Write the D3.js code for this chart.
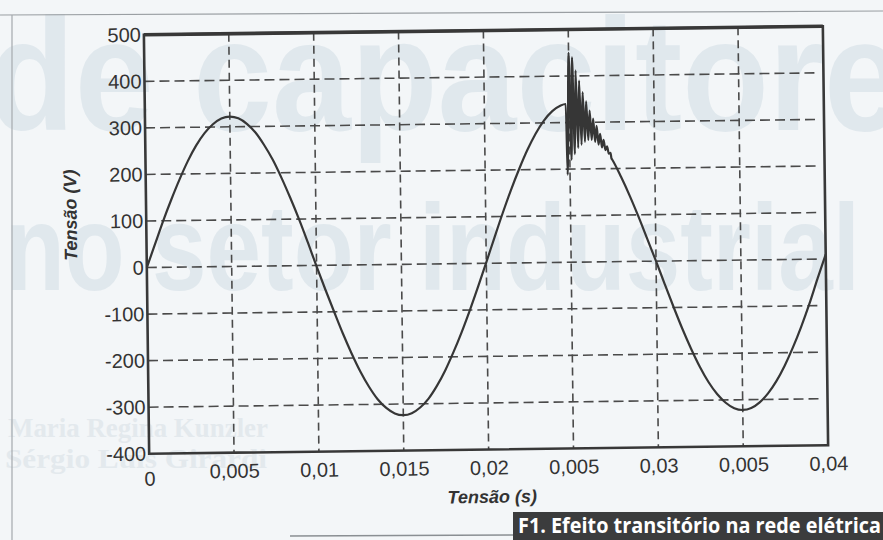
<!DOCTYPE html>
<html>
<head>
<meta charset="utf-8">
<script src="https://cdn.jsdelivr.net/npm/d3@7"></script>
<style>
body { margin: 0; background: #f3f6f8; }
svg { display: block; }
</style>
</head>
<body>
<svg id="graph"></svg>
<script>
var width = 883;
var height = 540;

// eixos
var yTicks = [-400, -300, -200, -100, 0, 100, 200, 300, 400, 500];
var xTicks = [0, 0.005, 0.01, 0.015, 0.02, 0.025, 0.03, 0.035, 0.04];
var xTickLabels = ["0", "0,005", "0,01", "0,015", "0,02", "0,005", "0,03", "0,005", "0,04"];

// tensao: [tempo (s), tensao (V)]
var onda = [
  [0, 0], [0.0005, 50], [0.001, 100], [0.0015, 146], [0.002, 189], [0.0025, 228],
  [0.003, 261], [0.0035, 287], [0.004, 306], [0.0045, 318], [0.005, 322],
  [0.0055, 318], [0.006, 306], [0.0065, 287], [0.007, 260], [0.0075, 228],
  [0.008, 189], [0.0085, 146], [0.009, 100], [0.0095, 50], [0.01, -2],
  [0.0105, -52], [0.011, -100], [0.0115, -147], [0.012, -190], [0.0125, -229],
  [0.013, -262], [0.0135, -289], [0.014, -308], [0.0145, -320], [0.015, -324],
  [0.0155, -320], [0.016, -308], [0.0165, -289], [0.017, -262], [0.0175, -229],
  [0.018, -190], [0.0185, -147], [0.019, -100], [0.0195, -50], [0.02, 2],
  [0.0205, 55], [0.021, 107], [0.0215, 156], [0.022, 201], [0.0225, 242],
  [0.023, 277], [0.0235, 305], [0.024, 325], [0.0245, 337], [0.0248, 340]
];

// chaveamento do capacitor
var transitorio = [
  [0.02486, 188], [0.025, 450], [0.0251, 220], [0.0252, 440], [0.0253, 232],
  [0.0254, 412], [0.0255, 245], [0.0256, 390], [0.0257, 252], [0.0258, 365],
  [0.0259, 258], [0.026, 345], [0.0261, 262], [0.0262, 325], [0.0263, 262],
  [0.0264, 308], [0.0265, 258], [0.0266, 292], [0.0267, 252], [0.0268, 275],
  [0.0269, 246], [0.027, 262], [0.0271, 240], [0.0272, 248], [0.0273, 232],
  [0.0274, 234], [0.02745, 222]
];

var ondaFinal = [
  [0.0275, 219], [0.028, 182], [0.0285, 141], [0.029, 96], [0.0295, 48],
  [0.03, 0], [0.0305, -50], [0.031, -99], [0.0315, -146], [0.032, -189],
  [0.0325, -228], [0.033, -261], [0.0335, -287], [0.034, -306], [0.0345, -318],
  [0.035, -322], [0.0355, -318], [0.036, -306], [0.0365, -287], [0.037, -261],
  [0.0375, -228], [0.038, -189], [0.0385, -145], [0.039, -96], [0.0395, -42],
  [0.04, 10]
];

var svg = d3.select("#graph").attr("width", width).attr("height", height);

// fundo da revista (texto de pagina atras do grafico)
var fundo = svg.append("g").attr("class", "fundo");
fundo.append("rect").attr("width", width).attr("height", height).attr("fill", "#f3f6f8");
fundo.append("text").text("de capacitore")
  .attr("x", -12).attr("y", 130)
  .attr("textLength", 915).attr("lengthAdjust", "spacingAndGlyphs")
  .style("font-family", "'Liberation Sans Narrow', 'Liberation Sans', sans-serif")
  .style("font-weight", "bold").style("font-size", "160px").style("fill", "#e0e8ed");
fundo.append("text").text("no setor industrial")
  .attr("x", 5).attr("y", 290)
  .attr("textLength", 855).attr("lengthAdjust", "spacingAndGlyphs")
  .style("font-family", "'Liberation Sans Narrow', 'Liberation Sans', sans-serif")
  .style("font-weight", "bold").style("font-size", "122px").style("fill", "#e0e8ed");
fundo.append("text").text("Maria Regina Kunzler")
  .attr("x", 8).attr("y", 437).attr("textLength", 260).attr("lengthAdjust", "spacingAndGlyphs")
  .style("font-family", "'Liberation Serif', serif").style("font-weight", "bold")
  .style("font-size", "27px").style("fill", "#e3e9ed");
fundo.append("text").text("Sérgio Luís Girardi")
  .attr("x", 5).attr("y", 468).attr("textLength", 262).attr("lengthAdjust", "spacingAndGlyphs")
  .style("font-family", "'Liberation Serif', serif").style("font-weight", "bold")
  .style("font-size", "27px").style("fill", "#e3e9ed");

// moldura da figura
fundo.append("line").attr("x1", 0).attr("y1", 15).attr("x2", width).attr("y2", 11)
  .attr("stroke", "#9a9fa3").attr("stroke-width", 1.2);
fundo.append("line").attr("x1", 12).attr("y1", 15).attr("x2", 12).attr("y2", height)
  .attr("stroke", "#a4a9ad").attr("stroke-width", 1.2);
fundo.append("line").attr("x1", 290).attr("y1", 536).attr("x2", 515).attr("y2", 535)
  .attr("stroke", "#8a8f93").attr("stroke-width", 1.5);

// grafico (a digitalizacao esta levemente girada)
var pLeft = 146.5, pRight = 825.5, pTop = 30.5, pBottom = 449.5;
var g = svg.append("g").attr("transform", "rotate(-0.72, 486, 240)");

var x = d3.scaleLinear().domain([0, 0.04]).range([pLeft, pRight]);
var y = d3.scaleLinear().domain([-400, 500]).range([pBottom, pTop]);

// grade tracejada
g.append("g").selectAll("line").data(yTicks.slice(1, -1)).enter().append("line")
  .attr("x1", pLeft).attr("x2", pRight - 4)
  .attr("y1", function(d) { return y(d); }).attr("y2", function(d) { return y(d); })
  .attr("stroke", "#4a4a4a").attr("stroke-width", 1.6).attr("stroke-dasharray", "10,5");
g.append("g").selectAll("line").data(xTicks.slice(1, -1)).enter().append("line")
  .attr("y1", pTop).attr("y2", pBottom)
  .attr("x1", function(d) { return x(d); }).attr("x2", function(d) { return x(d); })
  .attr("stroke", "#4a4a4a").attr("stroke-width", 1.6).attr("stroke-dasharray", "8,5");

// curva
var dados = onda.concat(transitorio, ondaFinal);
var linha = d3.line()
  .x(function(d) { return x(d[0]); })
  .y(function(d) { return y(d[1]); })
  .curve(d3.curveMonotoneX);
g.append("path").datum(dados).attr("d", linha)
  .attr("fill", "none").attr("stroke", "#363636").attr("stroke-width", 2.2)
  .attr("stroke-linejoin", "round");

// caixa dos eixos
g.append("rect").attr("x", pLeft).attr("y", pTop).attr("width", pRight - pLeft).attr("height", pBottom - pTop)
  .attr("fill", "none").attr("stroke", "#383838").attr("stroke-width", 2.6);
g.append("line").attr("x1", pLeft).attr("x2", pRight).attr("y1", pTop).attr("y2", pTop)
  .attr("stroke", "#383838").attr("stroke-width", 3.6);

var eixoY = g.append("g").attr("transform", "translate(" + pLeft + ",0)")
  .call(d3.axisLeft(y).tickValues(yTicks).tickSize(0).tickPadding(3)
    .tickFormat(function(d) { return String(d); }));
var eixoX = g.append("g").attr("transform", "translate(0," + pBottom + ")")
  .call(d3.axisBottom(x).tickValues(xTicks).tickSize(0).tickPadding(11)
    .tickFormat(function(d, i) { return xTickLabels[i]; }));
[eixoY, eixoX].forEach(function(a) {
  a.select(".domain").remove();
  a.selectAll("text").style("font-family", "'Liberation Sans', Arial, sans-serif")
    .style("font-size", "20px").style("fill", "#333");
});
eixoX.selectAll("text").filter(function(d, i) { return i === 0; }).attr("dy", "1.05em");

g.append("text").text("Tensão (V)")
  .attr("transform", "translate(77,210) rotate(-90)")
  .attr("text-anchor", "middle")
  .style("font-family", "'Liberation Sans', Arial, sans-serif")
  .style("font-size", "18px").style("font-weight", "bold").style("font-style", "italic")
  .style("fill", "#333");
g.append("text").text("Tensão (s)")
  .attr("x", 489).attr("y", 503)
  .attr("text-anchor", "middle")
  .style("font-family", "'Liberation Sans', Arial, sans-serif")
  .style("font-size", "18px").style("font-weight", "bold").style("font-style", "italic")
  .style("fill", "#333");

// legenda da figura
svg.append("rect").attr("x", 513).attr("y", 512).attr("width", 380).attr("height", 30)
  .attr("fill", "#3b3c3d");
svg.append("text").text("F1. Efeito transitório na rede elétrica")
  .attr("x", 518).attr("y", 533)
  .attr("textLength", 363).attr("lengthAdjust", "spacingAndGlyphs")
  .style("font-family", "'Open Sans', sans-serif").style("font-weight", "bold")
  .style("font-size", "21px").style("fill", "#ffffff");
</script>
</body>
</html>
